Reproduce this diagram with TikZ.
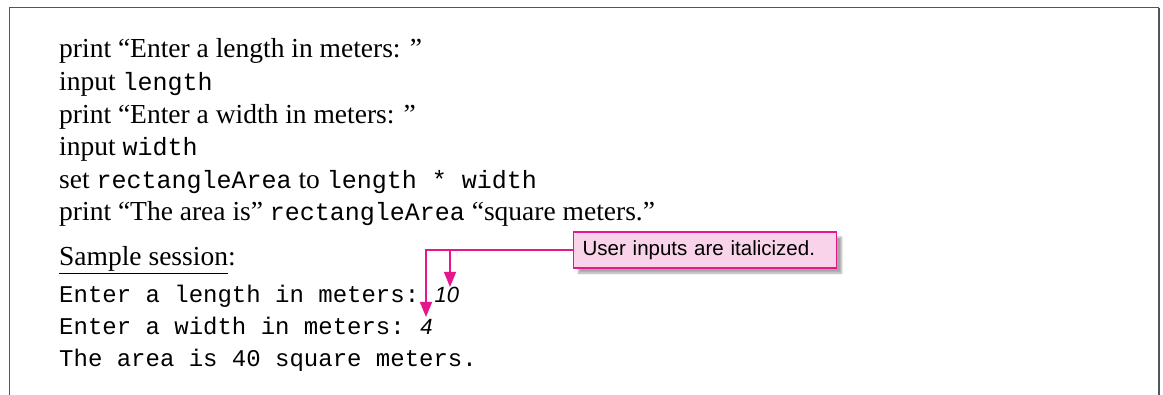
\documentclass[tikz,border=0pt]{standalone}
\usepackage{fontspec}
\setmainfont{Liberation Serif}
\setsansfont{Liberation Sans}
\setmonofont{Liberation Mono}
\usetikzlibrary{arrows.meta,positioning,shadows.blur}

\definecolor{calloutpink}{HTML}{F9D3E9}
\definecolor{calloutline}{HTML}{E6168C}
\definecolor{framegray}{HTML}{555555}

\tikzset{
	codeline/.style={anchor=base west, inner sep=0pt, font=\fontsize{27.5}{32}\selectfont},
	codemono/.style={font=\fontsize{25}{30}\selectfont\ttfamily},
	sessline/.style={anchor=base west, inner sep=0pt, font=\fontsize{24}{28}\selectfont\ttfamily},
	userin/.style={anchor=base west, inner sep=0pt, font=\fontsize{22}{26}\selectfont\sffamily\itshape},
	callout/.style={draw=calloutline, line width=1.2pt, fill=calloutpink,
		text width=245pt, align=left, inner xsep=9pt, minimum height=36pt,
		font=\fontsize{20.5}{24}\selectfont\sffamily,
		blur shadow={shadow blur steps=6, shadow xshift=5pt, shadow yshift=-5pt, shadow opacity=35}},
	pointer/.style={draw=calloutline, line width=1.5pt, -{Triangle[width=12pt,length=15pt]}}
}
\newcommand{\cm}[1]{{\fontsize{25}{30}\selectfont\ttfamily #1}}

\begin{document}
\begin{tikzpicture}[x=1pt,y=-1pt]
	\useasboundingbox (0,0) rectangle (1163,395);

	% frame
	\draw[framegray, line width=1pt] (9,395) -- (9,8) -- (1159,8);
	\draw[framegray, line width=2pt] (1159,8) -- (1159,395);

	% pseudocode
	\node[codeline] (p1) at (59,58) {print “Enter a length in meters: ”};
	\node[codeline] (p2) at (59,90.6) {input \cm{length}};
	\node[codeline] (p3) at (59,123.2) {print “Enter a width in meters: ”};
	\node[codeline] (p4) at (59,155.8) {input \cm{width}};
	\node[codeline] (p5) at (59,188.4) {set \cm{rectangleArea} to \cm{length * width}};
	\node[codeline] (p6) at (59,221) {print “The area is” \cm{rectangleArea} “square meters.”};

	% sample session
	\node[codeline] (sample) at (59,266) {\underline{Sample session}:};
	\node[sessline] (s1) at (59,303) {Enter a length in meters:};
	\node[userin] (lenin) at ([xshift=15pt]s1.base east) {10};
	\node[sessline] (s2) at (59,335) {Enter a width in meters:};
	\node[userin] (widin) at ([xshift=15pt]s2.base east) {4};
	\node[sessline] (s3) at (59,367) {The area is 40 square meters.};

	% callout
	\node[callout, anchor=west] (note) at (573,250) {User inputs are italicized.};
	\coordinate (tipten) at (450,287);
	\coordinate (tipfour) at (426,317);
	\draw[pointer] (note.west) -| (tipfour);
	\draw[pointer] (tipten |- note.west) -- (tipten);
\end{tikzpicture}
\end{document}
